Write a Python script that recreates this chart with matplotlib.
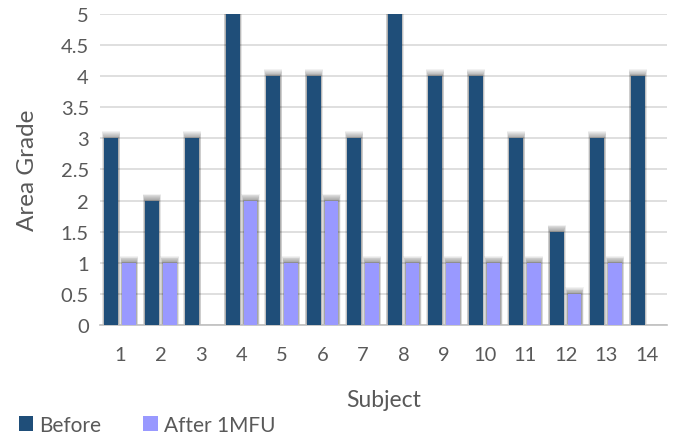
import numpy as np
import matplotlib.pyplot as plt
from matplotlib.patches import Rectangle

# values
subjects = [str(i) for i in range(1, 15)]
before = [3, 2, 3, 5, 4, 4, 3, 5, 4, 4, 3, 1.5, 3, 4]
after = [1, 1, 0, 2, 1, 2, 1, 1, 1, 1, 1, 0.5, 1, 0]
yticks = [0, 0.5, 1, 1.5, 2, 2.5, 3, 3.5, 4, 4.5, 5]
ytick_labels = ["0", "0.5", "1", "1.5", "2", "2.5", "3", "3.5", "4", "4.5", "5"]

plt.rcParams['font.family'] = ['Lato', 'DejaVu Sans']
txt = '#595959'

fig = plt.figure(figsize=(6.77, 4.35), dpi=100)
ax = fig.add_axes([0.1477, 0.2506, 0.8373, 0.7149])

x = np.arange(1, len(subjects) + 1)
w = 0.34
off = 0.22

# soft shadow on the bar tops (Excel style glow)
def shadow(xc, h):
    if h <= 0:
        return
    for k in range(1, 9):
        ax.add_patch(Rectangle((xc - w / 2 - 0.007 * k, 0), w + 0.014 * k, h + 0.014 * k,
                               color='black', alpha=0.05, lw=0, zorder=2))

for xi, b, a in zip(x, before, after):
    shadow(xi - off, b)
    shadow(xi + off, a)

ax.bar(x - off, before, width=w, color='#1F4E79', label='Before', zorder=3)
ax.bar(x + off, after, width=w, color='#9999FF', label='After 1MFU', zorder=3)

ax.set_xlim(0.5, 14.5)
ax.set_ylim(0, 5)
ax.set_yticks(yticks)
ax.set_yticklabels(ytick_labels)
ax.set_xticks(x)
ax.set_xticklabels(subjects)
ax.yaxis.grid(True, color='#D9D9D9', lw=1.2, zorder=0)
ax.set_axisbelow(True)
for s in ['top', 'right', 'left']:
    ax.spines[s].set_visible(False)
ax.spines['bottom'].set_color('#BFBFBF')
ax.spines['bottom'].set_linewidth(1.2)
ax.tick_params(axis='both', length=0, labelsize=14.5, colors=txt)
ax.tick_params(axis='x', pad=15)
ax.tick_params(axis='y', pad=8)

ax.set_xlabel('Subject', fontsize=16.5, color=txt, labelpad=19)
ax.set_ylabel('Area Grade', fontsize=17.5, color=txt, labelpad=16)

fig.legend(loc='lower left', bbox_to_anchor=(0.0, -0.045), ncol=2, frameon=False,
           fontsize=15, labelcolor=txt, handlelength=0.7, handleheight=0.7,
           handletextpad=0.3, columnspacing=2.0)

fig.savefig('out.png', dpi=100)
